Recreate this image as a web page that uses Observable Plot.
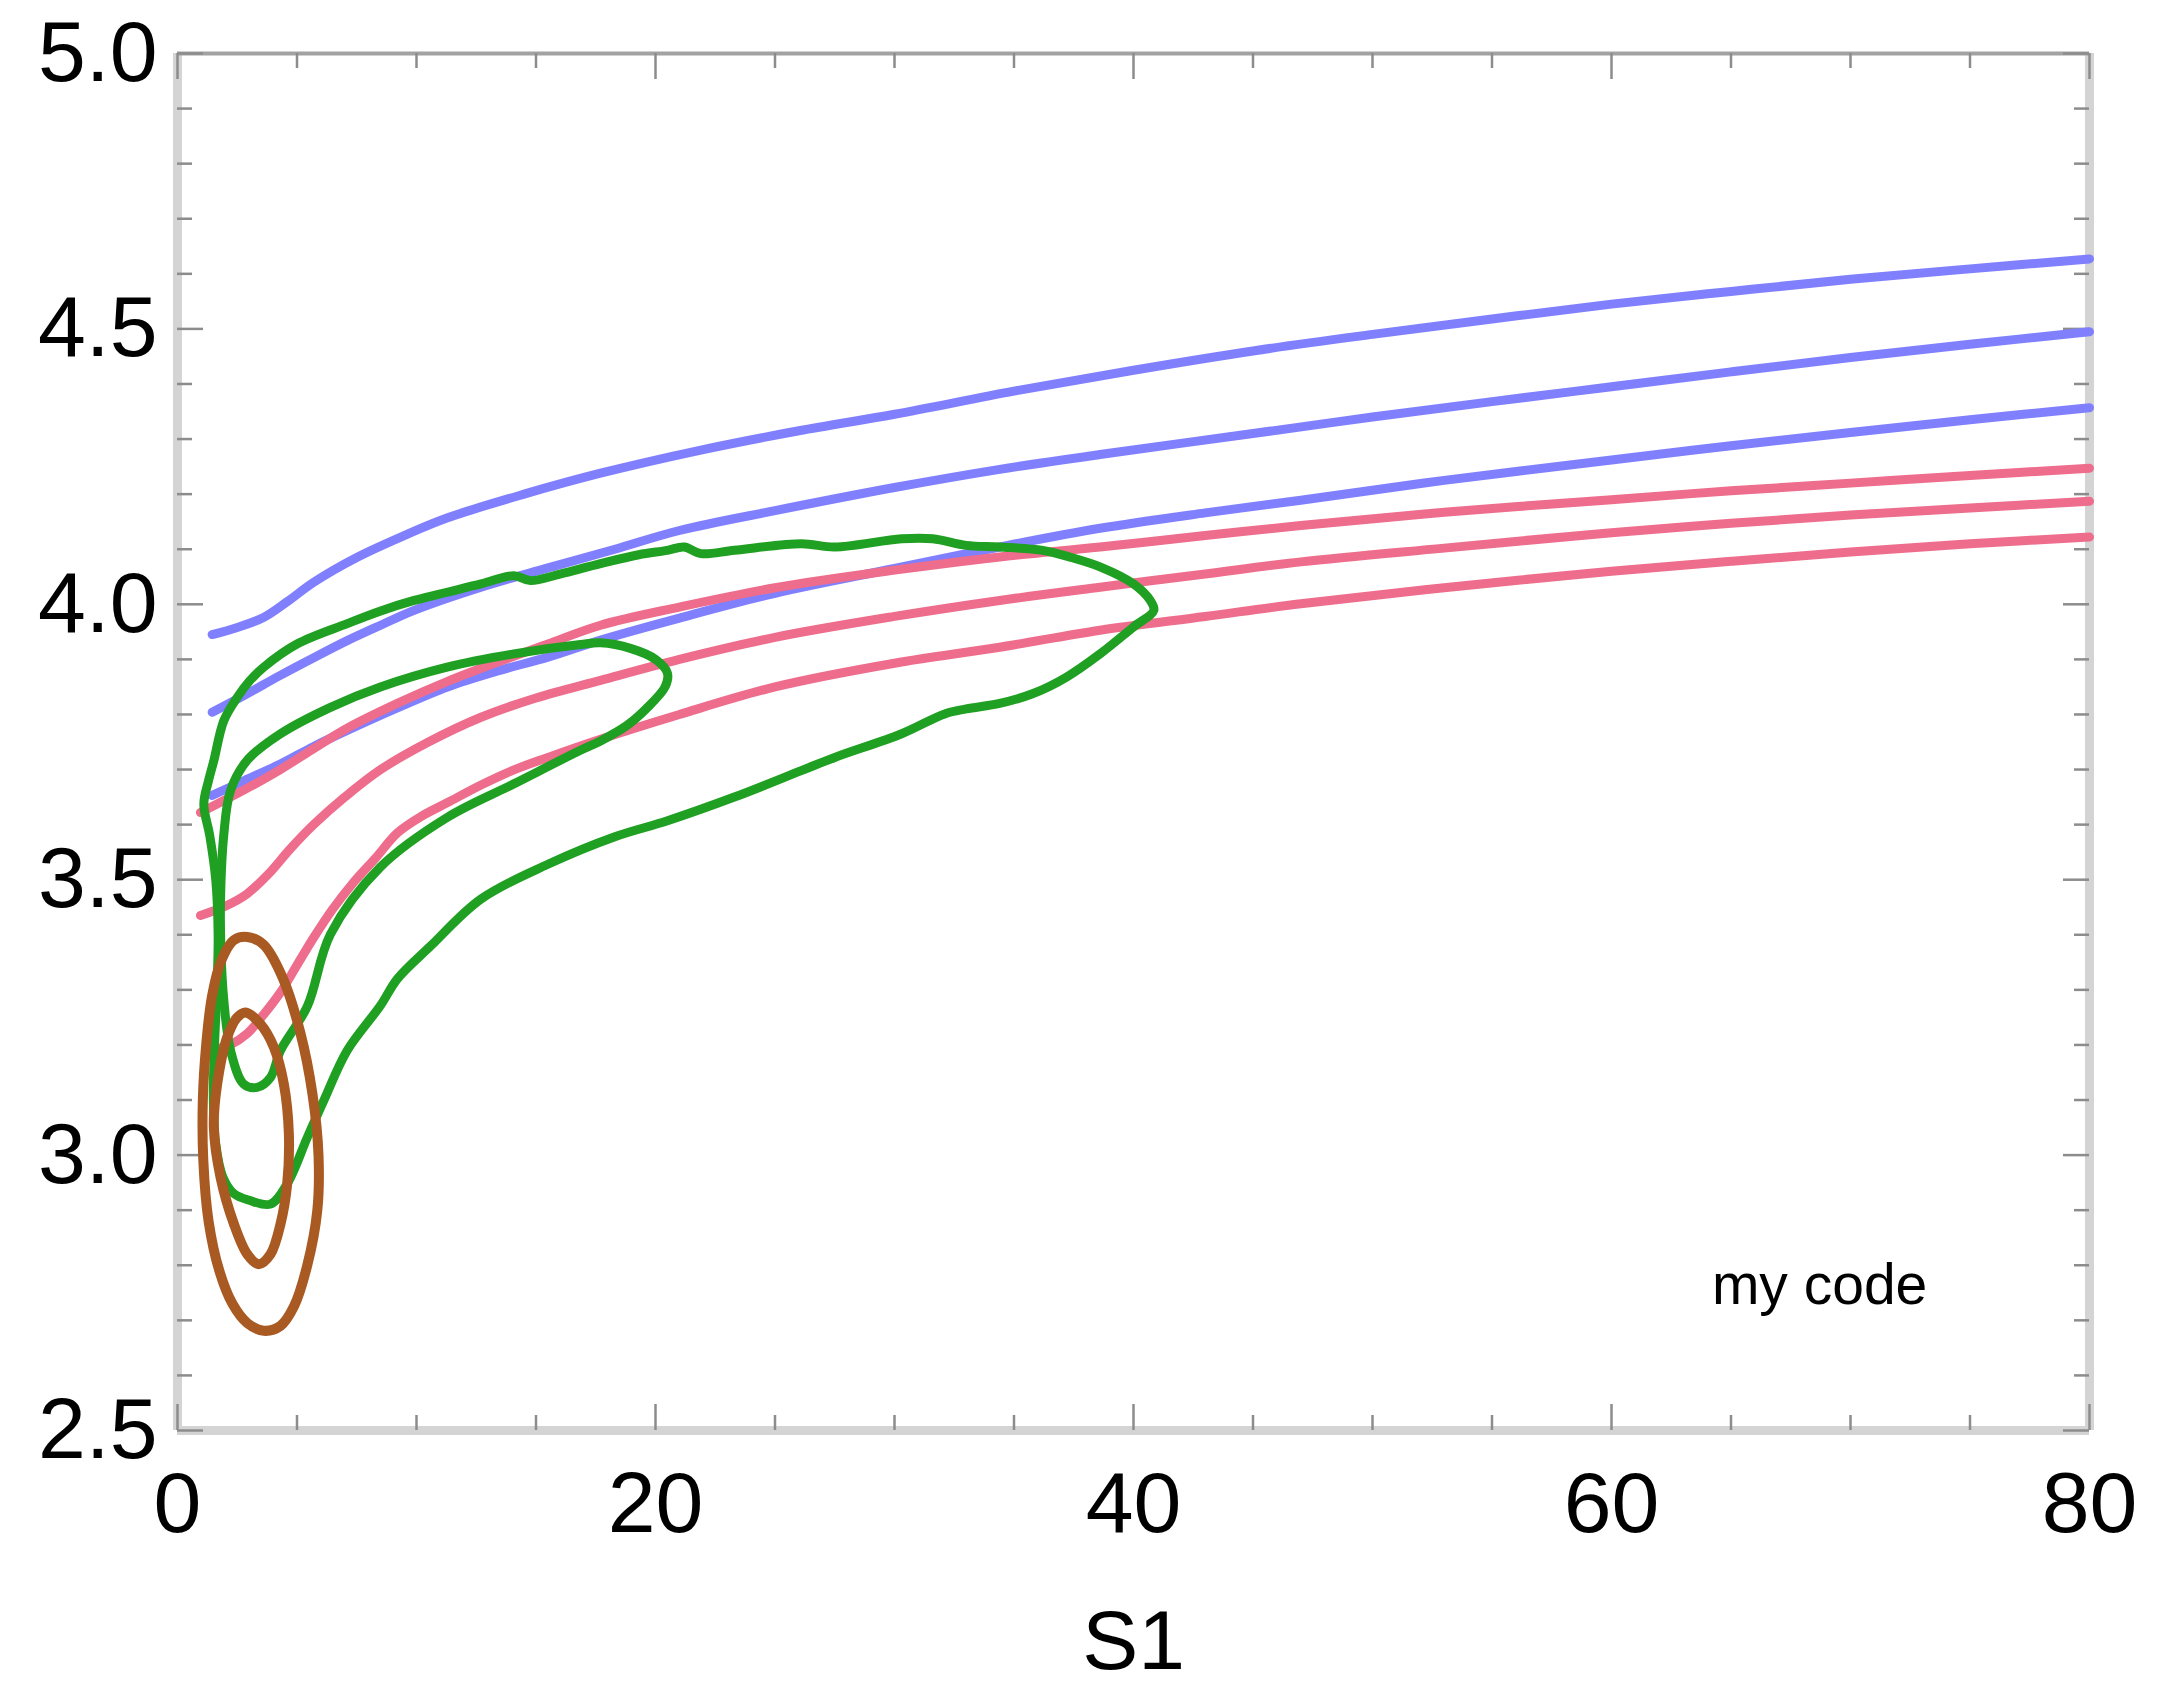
<!DOCTYPE html>
<html>
<head>
<meta charset="utf-8">
<script src="https://cdn.jsdelivr.net/npm/d3@7"></script>
<script src="https://cdn.jsdelivr.net/npm/@observablehq/plot@0.6"></script>
<style>
  html, body { margin: 0; padding: 0; background: #ffffff; }
  #chart { width: 2157px; height: 1685px; }
</style>
</head>
<body>
<div id="chart"></div>
<script>
// Model curves (S1, value) — three blue, three pink
const blueUpper = [[1.45,3.945],[2.5,3.958],[3.6,3.976],[4.6,4.005],[5.7,4.04],[7.5,4.085],[9.5,4.125],[11.3,4.157],[14.5,4.2],[17.7,4.238],[21.9,4.28],[26,4.315],[30,4.345],[35,4.387],[40,4.425],[45,4.46],[50,4.49],[55,4.518],[60,4.545],[65,4.568],[70,4.59],[75,4.609],[80,4.627]];
const blueMiddle = [[1.45,3.804],[2.8,3.835],[4.3,3.871],[5.7,3.903],[7.1,3.934],[8.5,3.962],[9.9,3.989],[12.7,4.031],[15.5,4.066],[18.3,4.1],[21,4.134],[25,4.17],[30,4.212],[34.4,4.245],[38.6,4.272],[45,4.31],[50,4.34],[55,4.368],[60,4.395],[65,4.422],[70,4.448],[75,4.472],[80,4.495]];
const blueLower = [[1.45,3.653],[2.8,3.68],[4.3,3.71],[5.7,3.742],[7.1,3.771],[9.2,3.812],[11.3,3.85],[13.4,3.879],[15.5,3.904],[17.7,3.935],[21,3.975],[25,4.02],[30,4.065],[34.4,4.104],[38.6,4.138],[43,4.166],[47,4.189],[53,4.225],[60,4.262],[65,4.288],[70,4.312],[75,4.335],[80,4.357]];
const pinkUpper = [[0.96,3.622],[2,3.645],[3,3.668],[4.3,3.7],[5.7,3.738],[7.1,3.775],[9.2,3.82],[11.3,3.86],[13.4,3.895],[15.5,3.928],[17.7,3.962],[21,3.995],[25,4.03],[30,4.062],[34.4,4.086],[38.6,4.104],[43,4.125],[47,4.143],[53,4.167],[60,4.19],[65,4.206],[70,4.22],[75,4.234],[80,4.247]];
const pinkMiddle = [[0.96,3.435],[2,3.452],[2.9,3.474],[3.8,3.51],[4.7,3.555],[5.7,3.6],[7,3.65],[8.5,3.7],[10.5,3.75],[12.7,3.795],[15,3.83],[17.7,3.862],[21,3.9],[25,3.94],[30,3.978],[34.4,4.007],[38.6,4.031],[43,4.055],[47,4.077],[53,4.102],[60,4.13],[65,4.147],[70,4.162],[75,4.175],[80,4.187]];
const pinkLower = [[1.38,3.19],[2.2,3.2],[2.9,3.22],[3.6,3.255],[4.3,3.295],[5.0,3.345],[5.7,3.395],[6.5,3.447],[7.4,3.497],[8.3,3.54],[9.2,3.585],[10.2,3.615],[11.3,3.64],[12.7,3.672],[14,3.698],[15.5,3.722],[17.7,3.755],[21,3.8],[25,3.85],[30,3.893],[34.4,3.922],[38.6,3.953],[43,3.978],[47,4.001],[53,4.03],[60,4.06],[65,4.078],[70,4.095],[75,4.11],[80,4.122]];

// Density contours (closed loops)
const greenOuter = [[1.1,3.637],[1.3,3.68],[1.52,3.716],[1.94,3.789],[2.5,3.831],[3.0,3.86],[3.61,3.886],[5.0,3.928],[7.1,3.965],[8.5,3.988],[9.9,4.007],[12.7,4.037],[14.07,4.052],[14.77,4.043],[16.0,4.055],[17.7,4.074],[19.3,4.09],[20.5,4.098],[21.2,4.104],[21.9,4.092],[23.3,4.098],[26.1,4.11],[27.5,4.104],[30.3,4.119],[31.6,4.119],[33.0,4.107],[34.4,4.104],[36.2,4.098],[37.4,4.085],[38.6,4.068],[40.0,4.037],[40.7,4.007],[40.85,3.989],[40.0,3.959],[38.6,3.91],[37.2,3.868],[35.8,3.838],[34.4,3.82],[33.0,3.81],[32.1,3.801],[30.3,3.765],[27.5,3.722],[26.1,3.698],[23.3,3.65],[20.5,3.607],[18.3,3.578],[15.5,3.528],[12.7,3.465],[10.6,3.38],[9.2,3.32],[8.5,3.272],[7.1,3.19],[6.12,3.099],[5.43,3.032],[4.59,2.948],[3.89,2.911],[3.0,2.918],[2.36,2.93],[1.9,2.96],[1.6,3.02],[1.5,3.1],[1.55,3.2],[1.65,3.3],[1.7,3.4],[1.6,3.5],[1.35,3.58]];
const greenInner = [[3.33,3.123],[2.77,3.129],[2.22,3.19],[1.94,3.28],[1.82,3.37],[1.8,3.462],[1.94,3.583],[2.22,3.662],[2.92,3.717],[4.31,3.765],[6.4,3.813],[8.49,3.85],[11.28,3.886],[14.07,3.91],[16.86,3.927],[17.7,3.93],[18.95,3.92],[20.0,3.9],[20.5,3.875],[20.4,3.85],[19.6,3.81],[18.8,3.78],[17.7,3.752],[16.86,3.735],[14.07,3.674],[11.28,3.613],[8.49,3.523],[6.4,3.401],[5.43,3.27],[4.31,3.19],[3.89,3.141]];
const brownOuter = [[2.92,3.396],[3.6,3.382],[4.4,3.322],[5.14,3.222],[5.65,3.11],[5.9,3.0],[5.85,2.9],[5.43,2.8],[4.87,2.725],[4.31,2.69],[3.61,2.681],[2.92,2.695],[2.3,2.73],[1.75,2.79],[1.3,2.88],[1.08,2.99],[1.06,3.1],[1.2,3.2],[1.45,3.29],[1.85,3.355],[2.35,3.39]];
const brownInner = [[2.85,3.259],[3.47,3.238],[4.03,3.196],[4.45,3.129],[4.66,3.038],[4.59,2.948],[4.31,2.875],[3.89,2.82],[3.40,2.802],[2.92,2.82],[2.36,2.875],[1.80,2.96],[1.52,3.051],[1.66,3.129],[2.08,3.214],[2.5,3.25]];

// Axis ticks and labels
const xMajorTicks = [0, 20, 40, 60, 80];
const xMinorTicks = [5, 10, 15, 25, 30, 35, 45, 50, 55, 65, 70, 75];
const yMajorTicks = [2.5, 3.0, 3.5, 4.0, 4.5, 5.0];
const yMinorTicks = [2.6, 2.7, 2.8, 2.9, 3.1, 3.2, 3.3, 3.4, 3.6, 3.7, 3.8, 3.9, 4.1, 4.2, 4.3, 4.4, 4.6, 4.7, 4.8, 4.9];
const xLabel = "S1";
const note = [{x: 64.2, y: 2.73, text: "my code"}];

const WIDTH = 2157, HEIGHT = 1685;
const M = {left: 177, right: 68, top: 53, bottom: 255};
const innerW = WIDTH - M.left - M.right;
const innerH = HEIGHT - M.top - M.bottom;

const BLUE = "#8080ff", PINK = "#ee6c8c", GREEN = "#20a022", BROWN = "#a85a22";
const FRAME = "#d4d4d4", FRAME_TOP = "#a2a2a2", TICK = "#8c8c8c";
const FONT = "'Liberation Sans', Arial, Helvetica, sans-serif";
const MAJOR = 26, MINOR = 15;

const px = d => d[0], py = d => d[1];
const curve = (data, stroke, w) => Plot.line(data, {x: px, y: py, stroke, strokeWidth: w, curve: "catmull-rom"});
const loop = (data, stroke, w) => Plot.line(data, {x: px, y: py, stroke, strokeWidth: w, curve: "catmull-rom-closed"});

const chart = Plot.plot({
  width: WIDTH,
  height: HEIGHT,
  marginLeft: M.left,
  marginRight: M.right,
  marginTop: M.top,
  marginBottom: M.bottom,
  x: {domain: [0, 80]},
  y: {domain: [2.5, 5]},
  style: {fontFamily: FONT, background: "#ffffff", color: "#000000"},
  marks: [
    // frame
    Plot.ruleX([0, 80], {stroke: FRAME, strokeWidth: 9}),
    Plot.ruleY([2.5], {stroke: FRAME, strokeWidth: 9}),
    Plot.ruleY([5], {stroke: FRAME_TOP, strokeWidth: 4}),
    // inward ticks on all four sides
    Plot.ruleX(xMajorTicks, {stroke: TICK, strokeWidth: 2.5, insetTop: innerH - MAJOR}),
    Plot.ruleX(xMinorTicks, {stroke: TICK, strokeWidth: 2.5, insetTop: innerH - MINOR}),
    Plot.ruleX(xMajorTicks, {stroke: TICK, strokeWidth: 2.5, insetBottom: innerH - MAJOR}),
    Plot.ruleX(xMinorTicks, {stroke: TICK, strokeWidth: 2.5, insetBottom: innerH - MINOR}),
    Plot.ruleY(yMajorTicks, {stroke: TICK, strokeWidth: 2.5, insetRight: innerW - MAJOR}),
    Plot.ruleY(yMinorTicks, {stroke: TICK, strokeWidth: 2.5, insetRight: innerW - MINOR}),
    Plot.ruleY(yMajorTicks, {stroke: TICK, strokeWidth: 2.5, insetLeft: innerW - MAJOR}),
    Plot.ruleY(yMinorTicks, {stroke: TICK, strokeWidth: 2.5, insetLeft: innerW - MINOR}),
    // tick labels
    Plot.axisX(xMajorTicks, {anchor: "bottom", tickSize: 0, tickPadding: 40, fontSize: 86, label: null}),
    Plot.axisY(yMajorTicks, {anchor: "left", tickSize: 0, tickPadding: 20, fontSize: 86, label: null, tickFormat: d => d.toFixed(1)}),
    Plot.text([xLabel], {frameAnchor: "bottom", dy: 238, lineAnchor: "bottom", fontSize: 84}),
    // model curves
    curve(blueUpper, BLUE, 9),
    curve(blueMiddle, BLUE, 9),
    curve(blueLower, BLUE, 9),
    curve(pinkUpper, PINK, 9),
    curve(pinkMiddle, PINK, 9),
    curve(pinkLower, PINK, 9),
    // contours
    loop(greenOuter, GREEN, 9),
    loop(greenInner, GREEN, 9),
    loop(brownOuter, BROWN, 10),
    loop(brownInner, BROWN, 10),
    // annotation
    Plot.text(note, {x: "x", y: "y", text: "text", textAnchor: "start", lineAnchor: "bottom", fontSize: 57})
  ]
});

document.getElementById("chart").append(chart);
</script>
</body>
</html>
